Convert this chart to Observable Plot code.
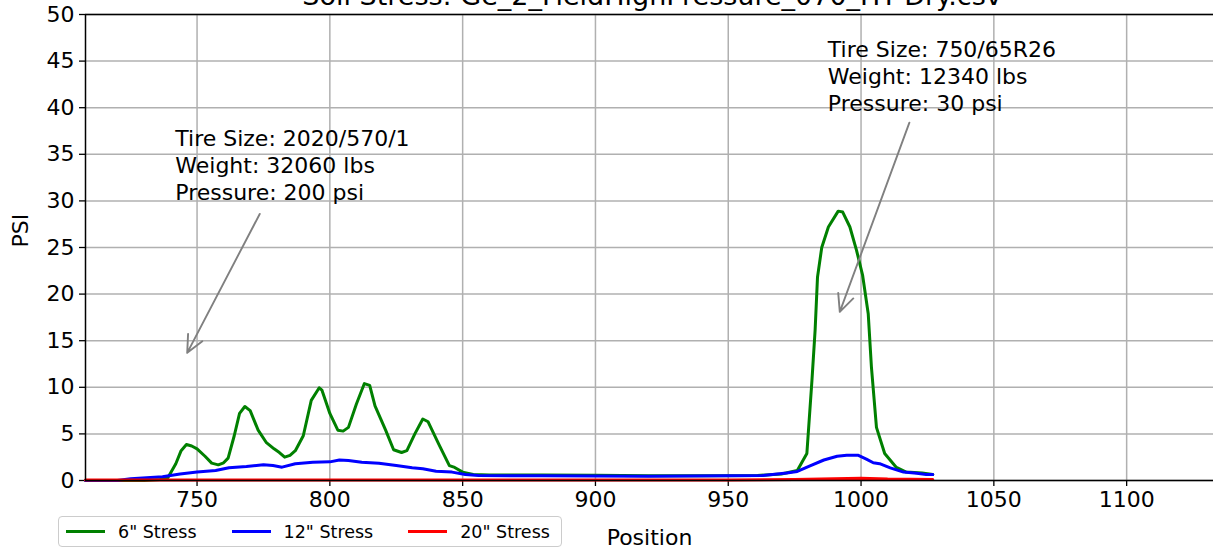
<!DOCTYPE html>
<html>
<head>
<meta charset="utf-8">
<script src="https://cdn.jsdelivr.net/npm/d3@7"></script>
<script src="https://cdn.jsdelivr.net/npm/@observablehq/plot@0.6"></script>
<style>
  html, body { margin: 0; padding: 0; background: white; overflow: hidden; }
  body { width: 1213px; height: 554px; position: relative; font-family: "DejaVu Sans", sans-serif; }
  #title { position: absolute; left: 0; width: 1304px; text-align: center; top: -18px; font-size: 27px; line-height: 28px; color: black; white-space: nowrap; z-index: 2; }
  #chart { position: absolute; left: 0; top: 0; z-index: 1; }
  #legend { position: absolute; left: 58px; top: 516px; width: 504px; height: 31px; border: 1px solid #cccccc; border-radius: 4px; box-sizing: border-box; display: flex; align-items: center; padding-left: 7px; gap: 35px; font-size: 17.5px; background: white; z-index: 2; }
  .item { display: flex; align-items: center; gap: 13px; }
  .sw { width: 39px; height: 3px; }
</style>
</head>
<body>
<div id="title"></div>
<div id="chart"></div>
<div id="legend"></div>
<script>
// ---- data ----
const chartTitle = "Soil Stress: Ge_2_FieldHighPressure_070_HT-Dry.csv";
const seriesNames = ['6" Stress', '12" Stress', '20" Stress'];
const seriesColors = ["green", "blue", "red"];

const pos6 = [708, 730, 736, 739, 742, 744, 746, 748, 750, 753, 755.5, 758, 760, 761.7, 764, 766, 768, 770, 773, 776, 779, 781, 783, 785, 787, 790, 793, 796, 797, 800, 803, 805, 807, 810, 813, 815, 817, 821, 824, 827, 829, 832, 835, 837, 841, 845, 847, 850, 854, 860, 880, 900, 920, 940, 961, 970, 976, 979.6, 981.5, 982.7, 983.6, 985.2, 987.7, 991.4, 993.1, 995.8, 998.3, 1000.6, 1002.7, 1003.9, 1005.8, 1008.9, 1013.3, 1017, 1023, 1027];
const psi6 = [0, 0, 0.1, 0.3, 1.8, 3.2, 3.86, 3.7, 3.4, 2.6, 1.86, 1.68, 1.9, 2.4, 4.8, 7.2, 7.94, 7.5, 5.4, 4.1, 3.4, 3.0, 2.5, 2.7, 3.2, 4.8, 8.6, 9.95, 9.7, 7.2, 5.4, 5.3, 5.7, 8.2, 10.4, 10.2, 8.0, 5.4, 3.3, 3.0, 3.2, 5.0, 6.6, 6.3, 3.9, 1.6, 1.4, 0.9, 0.65, 0.6, 0.6, 0.55, 0.5, 0.5, 0.54, 0.7, 1.07, 2.9, 10.7, 16.1, 21.8, 25.0, 27.2, 28.9, 28.8, 27.2, 24.7, 22.0, 17.9, 12.2, 5.7, 2.9, 1.4, 0.9, 0.8, 0.65];

const pos12 = [708, 720, 725, 737, 743.6, 750, 757, 762, 768.6, 775, 778.6, 782, 787, 793.6, 800, 803.6, 807, 812, 818.5, 825, 831, 835, 840, 846, 851, 856, 880, 920, 950, 963, 972, 976, 981, 986, 991, 994.6, 999, 1002, 1004.6, 1007, 1011, 1016, 1021, 1024.5, 1027];
const psi12 = [0, 0, 0.2, 0.4, 0.7, 0.9, 1.07, 1.36, 1.5, 1.7, 1.6, 1.43, 1.8, 1.97, 2.0, 2.2, 2.15, 1.97, 1.86, 1.6, 1.36, 1.25, 1.0, 0.9, 0.65, 0.54, 0.5, 0.45, 0.5, 0.54, 0.8, 0.97, 1.6, 2.2, 2.6, 2.7, 2.7, 2.3, 1.9, 1.8, 1.36, 0.9, 0.78, 0.65, 0.65];

const pos20 = [708, 750, 800, 850, 900, 950, 975, 990, 1000, 1010, 1027];
const psi20 = [0.05, 0.05, 0.05, 0.05, 0.05, 0.05, 0.1, 0.2, 0.25, 0.15, 0.1];

const xDomain = [708, 1132.7];
const yDomain = [0, 50];
const xTicks = [750, 800, 850, 900, 950, 1000, 1050, 1100];
const yTicks = [0, 5, 10, 15, 20, 25, 30, 35, 40, 45, 50];
const xLabel = "Position";
const yLabel = "PSI";

const annotText = ["Tire Size: 2020/570/1\nWeight: 32060 lbs\nPressure: 200 psi", "Tire Size: 750/65R26\nWeight: 12340 lbs\nPressure: 30 psi"];
const annotTextX = [741.8, 987.5];
const annotTextY = [37.9, 47.5];
const arrowFromX = [773.6, 1018.2];
const arrowFromY = [28.6, 38.4];
const arrowToX = [746.3, 992];
const arrowToY = [13.7, 18.1];

// ---- build ----
const lineRows = [];
[[pos6, psi6], [pos12, psi12], [pos20, psi20]].forEach(([xs, ys], k) => {
  xs.forEach((x, i) => lineRows.push({series: seriesNames[k], x, y: ys[i]}));
});
const annots = annotText.map((t, i) => ({
  t, tx: annotTextX[i], ty: annotTextY[i],
  x1: arrowFromX[i], y1: arrowFromY[i], x2: arrowToX[i], y2: arrowToY[i]
}));

document.getElementById("title").textContent = chartTitle;

const font = "DejaVu Sans";
const fmt = d => String(d);
const chart = Plot.plot({
  width: 1213,
  height: 554,
  marginLeft: 85,
  marginRight: 0,
  marginTop: 14,
  marginBottom: 74,
  style: {fontFamily: font, background: "white", overflow: "visible"},
  x: {domain: xDomain, ticks: xTicks, tickFormat: fmt},
  y: {domain: yDomain, ticks: yTicks, tickFormat: fmt},
  color: {domain: seriesNames, range: seriesColors},
  marks: [
    Plot.gridX(xTicks, {stroke: "#b0b0b0", strokeOpacity: 1, strokeWidth: 1.5}),
    Plot.gridY(yTicks, {stroke: "#b0b0b0", strokeOpacity: 1, strokeWidth: 1.5}),
    Plot.axisX(xTicks, {tickSize: 6, tickPadding: 5, fontSize: 22, label: null, stroke: "black", strokeWidth: 1.3, color: "black", tickFormat: fmt}),
    Plot.axisY(yTicks, {tickSize: 6, tickPadding: 5, fontSize: 22, label: null, stroke: "black", strokeWidth: 1.3, color: "black", tickFormat: fmt}),
    Plot.line(lineRows, {x: "x", y: "y", z: "series", stroke: "series", strokeWidth: 3, curve: "linear"}),
    Plot.ruleX([xDomain[0]], {stroke: "black", strokeWidth: 1.5}),
    Plot.ruleY([yDomain[0], yDomain[1]], {stroke: "black", strokeWidth: 1.5}),
    Plot.arrow(annots, {x1: "x1", y1: "y1", x2: "x2", y2: "y2", stroke: "gray", strokeWidth: 1.9, headLength: 15, headAngle: 50}),
    Plot.text(annots, {x: "tx", y: "ty", text: "t", textAnchor: "start", lineAnchor: "top", lineHeight: 1.22, fontSize: 22, fill: "black"}),
    Plot.text([xLabel], {frameAnchor: "bottom", dy: 57, fontSize: 22, fill: "black", lineAnchor: "middle"}),
    Plot.text([yLabel], {frameAnchor: "left", dx: -65, rotate: -90, fontSize: 22, fill: "black", lineAnchor: "middle"})
  ]
});
document.getElementById("chart").appendChild(chart);

const legend = document.getElementById("legend");
seriesNames.forEach((name, i) => {
  const item = document.createElement("div");
  item.className = "item";
  const sw = document.createElement("div");
  sw.className = "sw";
  sw.style.background = seriesColors[i];
  const lab = document.createElement("span");
  lab.textContent = name;
  item.appendChild(sw);
  item.appendChild(lab);
  legend.appendChild(item);
});
</script>
</body>
</html>
